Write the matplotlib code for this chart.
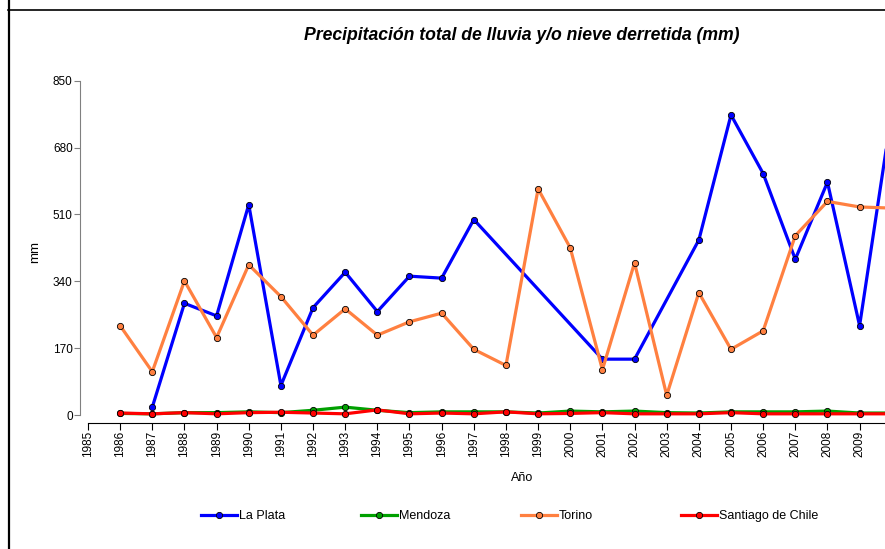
import numpy as np
import matplotlib
matplotlib.use("Agg")
import matplotlib.pyplot as plt
from matplotlib.lines import Line2D

plt.rcParams['font.family'] = ['Liberation Sans', 'DejaVu Sans']

years = list(range(1986, 2011))
la_plata = [np.nan, 20, 284, 252, 535, 75, 273, 363, 263, 353, 348, 497, np.nan, np.nan, np.nan,
            142, 142, np.nan, 445, 763, 614, 396, 592, 227, 770]
mendoza = [4, 3, 6, 6, 8, 6, 12, 20, 12, 6, 8, 8, 8, 5, 10, 8, 10, 6, 5, 8, 8, 8, 10, 5, 5]
torino = [227, 110, 341, 197, 382, 301, 203, 270, 203, 237, 259, 167, 126, 575, 425,
          115, 387, 50, 311, 167, 214, 456, 543, 529, 526]
santiago = [5, 3, 6, 3, 6, 7, 5, 3, 13, 3, 5, 3, 8, 3, 4, 6, 3, 3, 3, 6, 3, 3, 3, 3, 3]

series = [("La Plata", la_plata, "#0000FF"),
          ("Mendoza", mendoza, "#00A000"),
          ("Torino", torino, "#FF8040"),
          ("Santiago de Chile", santiago, "#FF0000")]

W, H = 885, 549
fig = plt.figure(figsize=(W / 100, H / 100), dpi=100)
ax = fig.add_axes([88 / W, (H - 415) / H, 1 - 88 / W, (415 - 80.7) / H])

handles = []
for name, vals, col in series:
    y = np.array(vals, dtype=float)
    m = ~np.isnan(y)
    h, = ax.plot(np.array(years)[m], y[m], color=col, lw=2.3, marker='o', ms=4.5,
                 mfc=col, mec='black', mew=0.6, clip_on=False, label=name)
    handles.append(h)

ax.set_xlim(1985, 1985 + (W - 88) / 32.15)
ax.set_ylim(0, 850)

for s in ['top', 'right']:
    ax.spines[s].set_visible(False)
ax.spines['left'].set_position(('outward', 6))
ax.spines['bottom'].set_position(('outward', 6))
ax.spines['left'].set_bounds(0, 850)
ax.spines['left'].set_color('#808080')
ax.spines['bottom'].set_color('black')

ax.set_yticks([0, 170, 340, 510, 680, 850])
ax.set_xticks(range(1985, 2010))
ax.tick_params(axis='y', length=4, color='#808080', labelsize=8.5, pad=1)
ax.tick_params(axis='x', length=5, color='black', labelsize=8.5, rotation=90, pad=0.5)

fig.text(35 / W, 1 - 252 / H, "mm", rotation=90, ha='center', va='center', fontsize=9.5)
fig.text(522 / W, 1 - 478 / H, "Año", ha='center', va='center', fontsize=9)
fig.text(522 / W, 1 - 36 / H, "Precipitación total de lluvia y/o nieve derretida (mm)",
         ha='center', va='center', fontsize=12.7, fontweight='bold', fontstyle='italic')

# legend: four fixed-width entries, 160 px apart
for i, h in enumerate(handles):
    x0 = (201 + 160 * i) / W
    fig.legend([h], [h.get_label()], loc='center left', bbox_to_anchor=(x0, 1 - 516 / H),
               frameon=False, fontsize=9, handlelength=2.9, handletextpad=0.15,
               borderaxespad=0, borderpad=0)

# frame pieces
fig.add_artist(Line2D([8.5 / W, 8.5 / W], [0, 1], color='black', lw=1.6))
fig.add_artist(Line2D([8 / W, 1], [1 - 10 / H, 1 - 10 / H], color='black', lw=1.2))

fig.savefig("out.png", dpi=100)
